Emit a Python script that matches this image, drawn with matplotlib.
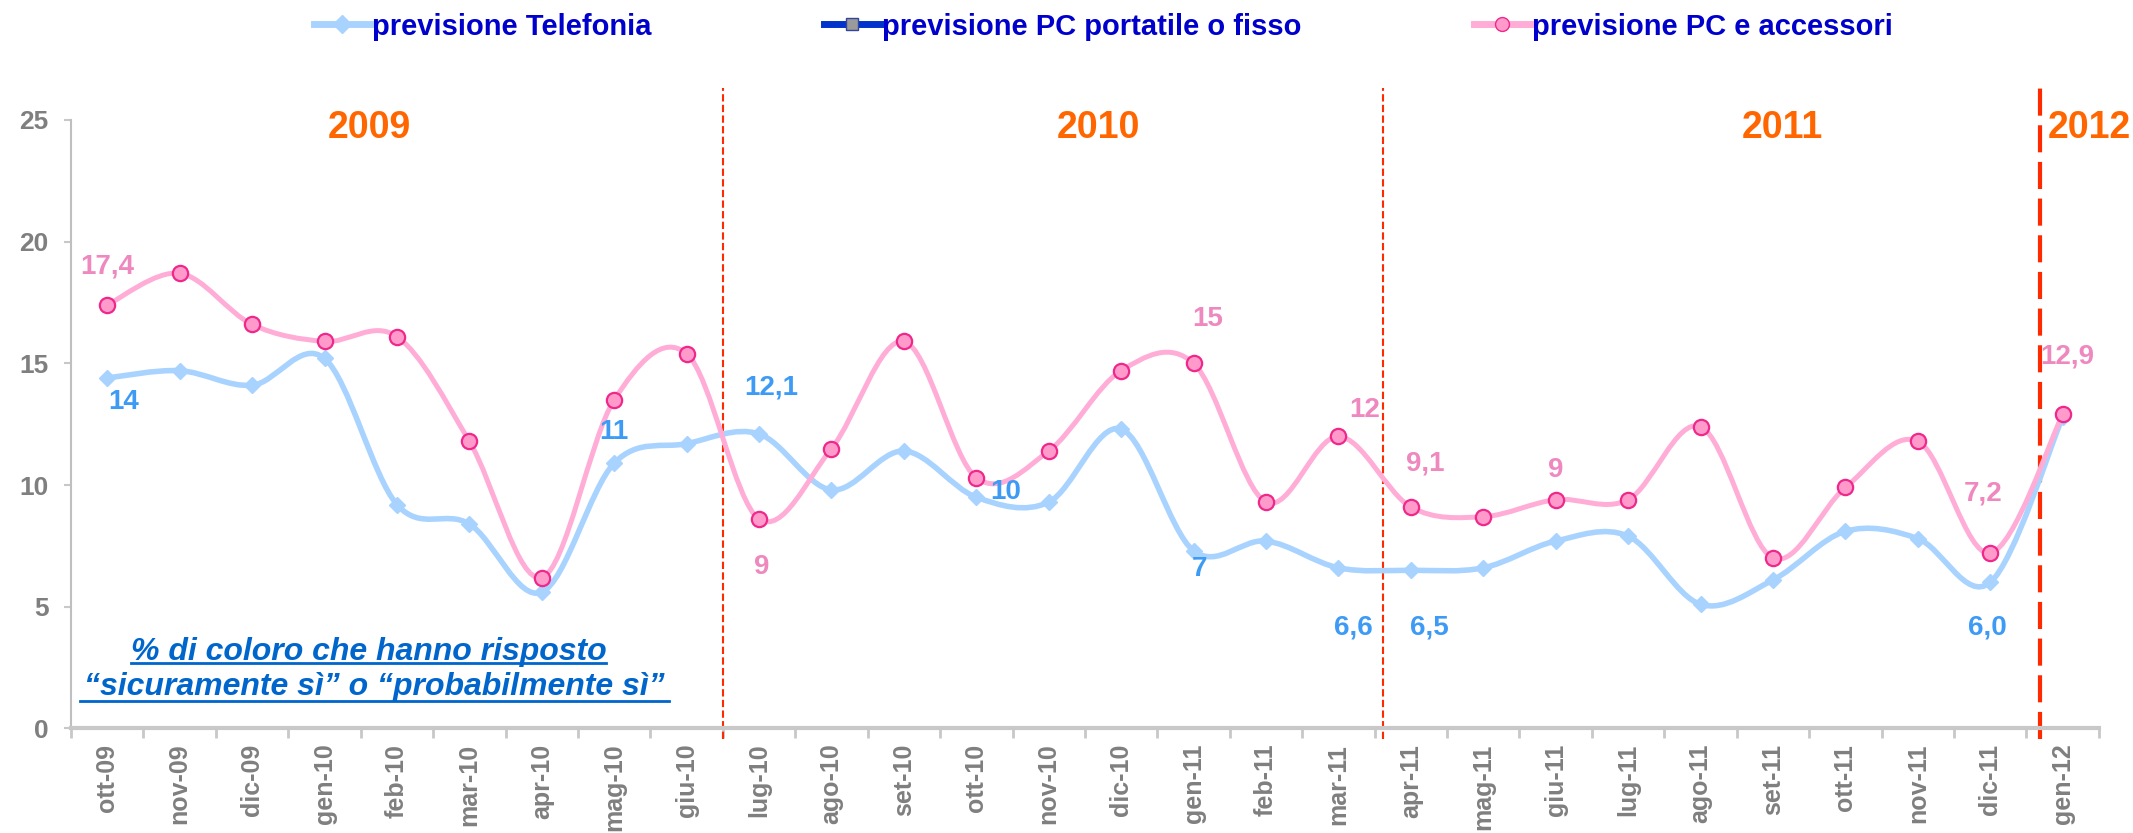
import numpy as np
import matplotlib
matplotlib.use("Agg")
from matplotlib import pyplot as plt
from matplotlib.path import Path
from matplotlib.patches import PathPatch
from matplotlib.lines import Line2D

months = ["ott-09", "nov-09", "dic-09", "gen-10", "feb-10", "mar-10", "apr-10",
          "mag-10", "giu-10", "lug-10", "ago-10", "set-10", "ott-10", "nov-10",
          "dic-10", "gen-11", "feb-11", "mar-11", "apr-11", "mag-11", "giu-11",
          "lug-11", "ago-11", "set-11", "ott-11", "nov-11", "dic-11", "gen-12"]
telefonia = [14.4, 14.7, 14.1, 15.2, 9.2, 8.4, 5.6, 10.9, 11.7, 12.1, 9.8, 11.4,
             9.5, 9.3, 12.3, 7.3, 7.7, 6.6, 6.5, 6.6, 7.7, 7.9, 5.1, 6.1, 8.1,
             7.8, 6.0, 12.8]
pc_accessori = [17.4, 18.7, 16.6, 15.9, 16.1, 11.8, 6.2, 13.5, 15.4, 8.6, 11.5,
                15.9, 10.3, 11.4, 14.7, 15.0, 9.3, 12.0, 9.1, 8.7, 9.4, 9.4,
                12.4, 7.0, 9.9, 11.8, 7.2, 12.9]
series_names = ["previsione Telefonia", "previsione PC portatile o fisso",
                "previsione PC e accessori"]
years = ["2009", "2010", "2011", "2012"]

# (x, y, text) for the data labels, as placed on the chart
blue_labels = [(0.22, 13.4, "14"), (7.0, 12.2, "11"), (9.17, 14.0, "12,1"),
               (12.41, 9.7, "10"), (15.08, 6.55, "7"), (17.2, 4.13, "6,6"),
               (18.26, 4.13, "6,5"), (25.96, 4.13, "6,0")]
pink_labels = [(0.0, 18.98, "17,4"), (9.03, 6.65, "9"), (15.19, 16.83, "15"),
               (17.36, 13.1, "12"), (18.2, 10.87, "9,1"), (20.0, 10.6, "9"),
               (25.9, 9.64, "7,2"), (27.06, 15.28, "12,9")]
year_pos = [3.62, 13.68, 23.13, 27.37]
year_lines = [8.5, 17.61, 26.69]

FONT = "Liberation Sans"
BLUE_LINE = "#A9D3FF"
BLUE_TXT = "#3D9BF5"
PINK_LINE = "#FFADD6"
PINK_FACE = "#FF9ACB"
PINK_EDGE = "#F0288C"
PINK_TXT = "#EE88BE"
GREY = "#7F7F7F"
AXIS_GREY = "#C8C8C8"
RED = "#FF2A00"
ORANGE = "#FF6600"
NOTE = "#0066CC"


def smooth_path(xs, ys):
    # Bezier segments like the Excel "smoothed line"
    pts = np.column_stack([xs, ys]).astype(float)
    n = len(pts)
    verts = [pts[0]]
    codes = [Path.MOVETO]
    for i in range(n - 1):
        p0 = pts[max(i - 1, 0)]
        p1 = pts[i]
        p2 = pts[i + 1]
        p3 = pts[min(i + 2, n - 1)]
        verts += [p1 + (p2 - p0) / 6.0, p2 - (p3 - p1) / 6.0, p2]
        codes += [Path.CURVE4] * 3
    return Path(verts, codes)


plt.rcParams["font.family"] = FONT
fig = plt.figure(figsize=(21.33, 8.33), dpi=100)
ax = fig.add_axes([0.0333, 0.1255, 0.9507, 0.7305])
x = np.arange(len(months))

ax.add_patch(PathPatch(smooth_path(x, telefonia), fill=False, edgecolor=BLUE_LINE,
                       lw=4.0, capstyle="round", joinstyle="round", zorder=3))
ax.plot(x, telefonia, ls="none", marker="D", ms=8, color=BLUE_LINE, zorder=4)
ax.add_patch(PathPatch(smooth_path(x, pc_accessori), fill=False, edgecolor=PINK_LINE,
                       lw=3.6, capstyle="round", joinstyle="round", zorder=5))
ax.plot(x, pc_accessori, ls="none", marker="o", ms=11, mfc=PINK_FACE,
        mec=PINK_EDGE, mew=1.6, zorder=6)

# year separators
for i, xv in enumerate(year_lines):
    last = i == len(year_lines) - 1
    ax.plot([xv, xv], [-0.45, 26.3], color=RED, clip_on=False, zorder=2,
            lw=3.0 if last else 1.5,
            ls=(0, (6.5, 2.3)) if last else (0, (3.5, 1.6)))

for xv, yv, t in blue_labels:
    ax.text(xv, yv, t, color=BLUE_TXT, fontsize=20, fontweight="bold",
            ha="center", va="center", zorder=7)
for xv, yv, t in pink_labels:
    ax.text(xv, yv, t, color=PINK_TXT, fontsize=20, fontweight="bold",
            ha="center", va="center", zorder=7)
for xv, t in zip(year_pos, years):
    ax.text(xv, 24.68, t, color=ORANGE, fontsize=27, fontweight="bold",
            ha="center", va="center")

ax.set_xlim(-0.5, len(months) - 0.5)
ax.set_ylim(0, 25)
ax.set_xticks(np.arange(-0.5, len(months)), labels=[])
ax.set_xticks(x, labels=months, minor=True)
ax.tick_params(axis="x", which="major", length=7, width=2, color=AXIS_GREY,
               direction="out")
ax.tick_params(axis="x", which="minor", length=0, pad=11)
for lab in ax.get_xticklabels(minor=True):
    lab.set_rotation(90)
    lab.set_fontsize(18)
    lab.set_fontweight("bold")
    lab.set_color(GREY)
    lab.set_va("top")
ax.set_yticks(np.arange(0, 26, 5))
ax.tick_params(axis="y", length=5, width=1.5, color=AXIS_GREY, pad=11,
               labelsize=19, labelcolor=GREY)
for lab in ax.get_yticklabels():
    lab.set_fontweight("bold")
for s in ["top", "right"]:
    ax.spines[s].set_visible(False)
ax.spines["left"].set_color("#BFBFBF")
ax.spines["left"].set_linewidth(1.5)
ax.spines["bottom"].set_color(AXIS_GREY)
ax.spines["bottom"].set_linewidth(3)

# note in the lower-left corner, underlined
note1 = ax.text(3.61, 2.82, "% di coloro che hanno risposto", color=NOTE,
                fontsize=23, fontweight="bold", style="italic",
                ha="center", va="baseline")
note2 = ax.text(3.69, 1.38, "\u201csicuramente s\u00ec\u201d o \u201cprobabilmente s\u00ec\u201d",
                color=NOTE, fontsize=23, fontweight="bold", style="italic",
                ha="center", va="baseline")
fig.canvas.draw()
renderer = fig.canvas.get_renderer()
inv = fig.transFigure.inverted()
for t, extra, drop in [(note1, 0, 3), (note2, 4, 6)]:
    bb = t.get_window_extent(renderer)
    base = ax.transData.transform(t.get_position())[1]
    (x0, y0), (x1, _) = inv.transform([[bb.x0 - extra, base - drop], [bb.x1 + extra, base]])
    fig.add_artist(Line2D([x0, x1], [y0, y0], color=NOTE, lw=2.0))

handles = [
    Line2D([], [], color=BLUE_LINE, lw=5, marker="D", ms=9),
    Line2D([], [], color="#0033CC", lw=5, marker="s", ms=9, mfc="#9A9A9A", mec="#334499"),
    Line2D([], [], color=PINK_LINE, lw=5, marker="o", ms=10, mfc=PINK_FACE, mec=PINK_EDGE),
]
leg = fig.legend(handles, series_names, loc="center", bbox_to_anchor=(0.5173, 0.968),
                 ncol=3, frameon=False, handlelength=1.95, handletextpad=0.05,
                 columnspacing=5.9, prop={"weight": "bold", "size": 21})
for t in leg.get_texts():
    t.set_color("#0000CC")

fig.savefig("out.png", dpi=100)
